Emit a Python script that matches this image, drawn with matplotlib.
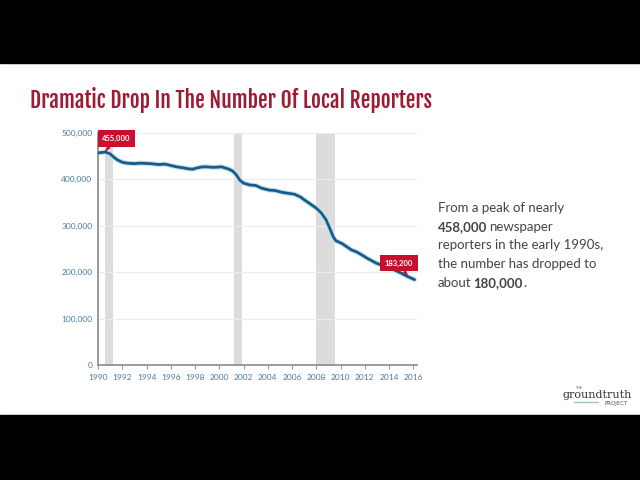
import numpy as np
import matplotlib.pyplot as plt
from matplotlib.patches import Rectangle

# data (year, reporters)
years = [1990.0, 1990.3, 1990.6, 1991.0, 1991.3, 1991.6, 1992.0, 1992.4, 1993.0, 1993.5,
         1994.3, 1995.0, 1995.5, 1996.0, 1996.5, 1997.0, 1997.4, 1997.8, 1998.2, 1998.6,
         1999.0, 1999.5, 2000.2, 2000.8, 2001.1, 2001.4, 2001.7, 2002.0, 2002.5, 2003.0,
         2003.5, 2004.1, 2004.6, 2005.2, 2005.7, 2006.2, 2006.7, 2007.0, 2007.4, 2008.0,
         2008.4, 2008.8, 2009.1, 2009.4, 2009.6, 2010.1, 2010.5, 2010.9, 2011.3, 2011.7,
         2012.2, 2012.9, 2013.5, 2014.0, 2014.5, 2015.0, 2015.5, 2016.1]
reporters = [457000, 458000, 459000, 455000, 448000, 442000, 437000, 435000, 434000, 435000,
             434000, 432000, 433000, 430000, 427000, 425000, 423000, 422000, 425000, 427000,
             427000, 426000, 427000, 422000, 418000, 410000, 398000, 392000, 388000, 387000,
             381000, 377000, 376000, 372000, 370000, 368000, 362000, 356000, 349000, 338000,
             328000, 313000, 295000, 276000, 268000, 262000, 255000, 248000, 244000, 238000,
             230000, 220000, 214000, 210000, 204000, 198000, 191000, 184000]

recessions = [(1990.55, 1991.2), (2001.2, 2001.9), (2007.95, 2009.5)]
xticks = list(range(1990, 2017, 2))
yticks = [0, 100000, 200000, 300000, 400000, 500000]

title_fam = ['Fjalla One', 'DejaVu Sans']
body_fam = ['Lato', 'DejaVu Sans']
tick_fam = ['Lato', 'DejaVu Sans']

fig = plt.figure(figsize=(6.4, 4.8), dpi=100)
fig.patch.set_facecolor('white')
# black letterbox bars
fig.patches.append(Rectangle((0, 1 - 63 / 480), 1, 63 / 480, transform=fig.transFigure,
                             color='black', zorder=0))
fig.patches.append(Rectangle((0, 0), 1, 65 / 480, transform=fig.transFigure,
                             color='black', zorder=0))

fig.text(30 / 640, 1 - 100 / 480, 'Dramatic Drop In The Number Of Local Reporters',
         family=title_fam, fontsize=15.5, color='#9e1b32', va='center', ha='left')

ax = fig.add_axes([98 / 640, 1 - 365 / 480, 319 / 640, 232 / 480])
for a, b in recessions:
    ax.axvspan(a, b, color='#dcdcdc', lw=0, zorder=0)

ax.plot(years, reporters, color='#bfe3f5', lw=3.6, zorder=2, solid_capstyle='round')
ax.plot(years, reporters, color='#1b5a85', lw=2.0, zorder=3, solid_capstyle='round')

ax.set_xlim(1990, 2016.3)
ax.set_ylim(0, 500000)
ax.set_xticks(xticks)
ax.set_yticks(yticks)
ax.set_yticklabels(['0'] + [f'{v:,}' for v in yticks[1:]])
for lab in ax.get_xticklabels() + ax.get_yticklabels():
    lab.set_family(tick_fam)
ax.tick_params(axis='both', labelsize=6, labelcolor='#4a7ba0', color='#999999', length=3)
ax.tick_params(axis='y', length=0, pad=4)
ax.grid(axis='y', color='#ececec', lw=0.8)
ax.set_axisbelow(True)
for s in ['top', 'right']:
    ax.spines[s].set_visible(False)
for s in ['left', 'bottom']:
    ax.spines[s].set_color('#8a8a8a')
    ax.spines[s].set_linewidth(1.2)

# value callouts
def callout(x, y, text, dx, dy):
    ax.annotate(text, xy=(x, y), xytext=(dx, dy), textcoords='offset points',
                fontsize=5.5, fontweight='bold', color='white', ha='center', va='center',
                bbox=dict(boxstyle='square,pad=0.6', fc='#c8102e', ec='none'), zorder=5,
                family=tick_fam,
                arrowprops=dict(arrowstyle='wedge,tail_width=0.5', fc='#c8102e', ec='none',
                                shrinkA=0, shrinkB=0))

callout(1990.5, 458000, '455,000', 9, 10)
callout(2015.6, 190000, '183,200', -7, 10)

fam = body_fam
fs = 9.5
col = '#444444'
ys = [208, 227, 245, 264, 283]
fig.text(438 / 640, 1 - ys[0] / 480, 'From a peak of nearly', family=fam, fontsize=fs, color=col, va='center')
b1 = fig.text(438 / 640, 1 - ys[1] / 480, '458,000', family=fam, fontsize=fs, color=col,
              fontweight='bold', va='center')
fig.canvas.draw()
bb = b1.get_window_extent()
fig.text(bb.x1 / 640 + 0.002, 1 - ys[1] / 480, 'newspaper', family=fam, fontsize=fs,
         color=col, va='center')
fig.text(438 / 640, 1 - ys[2] / 480, 'reporters in the early 1990s,', family=fam, fontsize=fs, color=col, va='center')
fig.text(438 / 640, 1 - ys[3] / 480, 'the number has dropped to', family=fam, fontsize=fs, color=col, va='center')
a5 = fig.text(438 / 640, 1 - ys[4] / 480, 'about', family=fam, fontsize=fs, color=col, va='center')
fig.canvas.draw()
bb = a5.get_window_extent()
t5 = fig.text(bb.x1 / 640 + 0.003, 1 - ys[4] / 480, '180,000', family=fam, fontsize=fs,
              color=col, fontweight='bold', va='center')
fig.canvas.draw()
bb = t5.get_window_extent()
fig.text(bb.x1 / 640, 1 - ys[4] / 480, '.', family=fam, fontsize=fs, color=col, va='center')

# logo
fig.text(575 / 640, 1 - 388 / 480, 'THE', fontsize=2.5, color='#555555', va='center')
fig.text(597 / 640, 1 - 395 / 480, 'groundtruth', family=['DejaVu Serif'], fontsize=8,
         color='#333333', ha='center', va='center')
fig.add_artist(plt.Line2D([574 / 640, 598 / 640], [1 - 402 / 480] * 2, color='#9cc9c0', lw=1))
fig.text(628 / 640, 1 - 404 / 480, 'PROJECT', fontsize=4, color='#555555', ha='right', va='center')

fig.savefig('out.png', dpi=100)
